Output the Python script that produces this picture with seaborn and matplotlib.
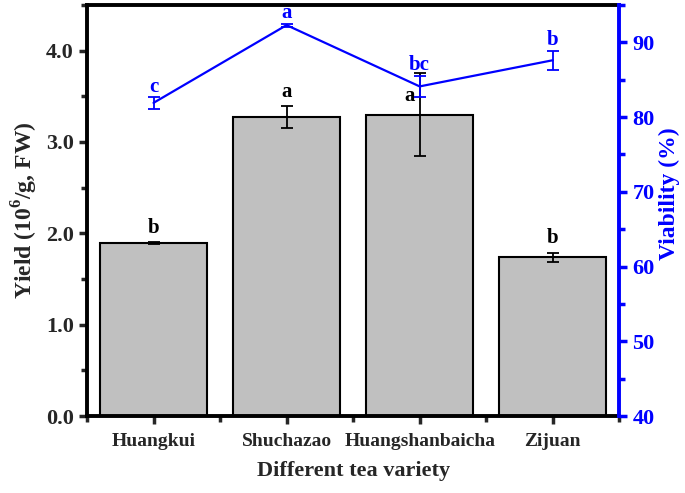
import numpy as np
import pandas as pd
import matplotlib
matplotlib.use("Agg")
import matplotlib.pyplot as plt
import seaborn as sns
from matplotlib.ticker import MultipleLocator, FormatStrFormatter

# data
varieties = ["Huangkui", "Shuchazao", "Huangshanbaicha", "Zijuan"]
yield_mean = [1.89, 3.27, 3.30, 1.74]
yield_err = [0.01, 0.12, 0.45, 0.05]
yield_letters = ["b", "a", "a", "b"]
viability_mean = [81.9, 92.3, 84.1, 87.6]
viability_err = [0.8, 0.2, 1.45, 1.3]
viability_letters = ["c", "a", "bc", "b"]

sns.set_style("ticks")
plt.rcParams['font.family'] = ['Liberation Serif', 'DejaVu Serif']
plt.rcParams['font.weight'] = 'bold'
plt.rcParams['mathtext.fontset'] = 'custom'
plt.rcParams['mathtext.rm'] = 'Liberation Serif:bold'
plt.rcParams['mathtext.bf'] = 'Liberation Serif:bold'

df = pd.DataFrame({'variety': varieties, 'yield': yield_mean})
blue = '#0000ff'

fig = plt.figure(figsize=(6.85, 4.93), dpi=100)
ax = fig.add_axes([0.127, 0.156, 0.777, 0.834])

sns.barplot(data=df, x='variety', y='yield', color='#c0c0c0', edgecolor='black',
            linewidth=1.5, width=0.8, saturation=1, ax=ax)
pos = np.arange(len(varieties))
ax.errorbar(pos, yield_mean, yerr=yield_err, fmt='none', ecolor='black',
            elinewidth=1.3, capsize=4, capthick=1.3, zorder=5)
for i in pos:
    if i == 2:
        # this letter sits beside the long error bar in the original
        ax.text(i - 0.04, 3.50, yield_letters[i], ha='right', va='center',
                fontsize=15, fontweight='bold', color='black')
    else:
        ax.text(i, yield_mean[i] + yield_err[i] + 0.05, yield_letters[i], ha='center',
                va='bottom', fontsize=15, fontweight='bold', color='black')

ax.set_xlim(-0.5, 3.5)
ax.set_ylim(0, 4.5)
ax.yaxis.set_major_locator(MultipleLocator(1.0))
ax.yaxis.set_minor_locator(MultipleLocator(0.5))
ax.yaxis.set_major_formatter(FormatStrFormatter('%.1f'))
ax.set_xticks(pos, minor=False)
ax.set_xticks(np.arange(-0.5, 4.0, 1.0), minor=True)
ax.set_xticklabels(varieties)
ax.set_xlabel('Different tea variety', fontsize=16, fontweight='bold', labelpad=8)
ax.set_ylabel('Yield (10$^6$/g, FW)', fontsize=17, fontweight='bold', labelpad=4)
ax.tick_params(axis='x', which='major', direction='out', length=6, width=2.5,
               labelsize=14, pad=6)
ax.tick_params(axis='y', which='major', direction='out', length=6, width=2.5,
               labelsize=16)
ax.tick_params(axis='both', which='minor', direction='out', length=4, width=2.5)
for sp in ['left', 'bottom', 'top']:
    ax.spines[sp].set_linewidth(2.8)
    ax.spines[sp].set_color('black')
ax.spines['right'].set_visible(False)

ax2 = ax.twinx()
ax2.plot(pos, viability_mean, color=blue, lw=1.6)
ax2.errorbar(pos, viability_mean, yerr=viability_err, fmt='none', ecolor=blue,
             elinewidth=1.3, capsize=4, capthick=1.3)
for i in pos:
    ax2.text(i, viability_mean[i] + viability_err[i] + 0.7, viability_letters[i],
             ha='center', va='baseline', fontsize=15, fontweight='bold', color=blue)
ax2.set_ylim(40, 95)
ax2.yaxis.set_major_locator(MultipleLocator(10))
ax2.yaxis.set_minor_locator(MultipleLocator(5))
ax2.set_ylabel('Viability (%)', fontsize=17, fontweight='bold', color=blue)
ax2.yaxis.set_label_coords(1.075, 0.54)
ax2.tick_params(axis='y', which='major', direction='out', length=6, width=2.5,
                labelsize=16, colors=blue)
ax2.tick_params(axis='y', which='minor', direction='out', length=4, width=2.5, colors=blue)
for sp in ['left', 'bottom', 'top']:
    ax2.spines[sp].set_visible(False)
ax2.spines['right'].set_linewidth(2.8)
ax2.spines['right'].set_color(blue)

for lab in ax.get_xticklabels() + ax.get_yticklabels() + ax2.get_yticklabels():
    lab.set_fontweight('bold')

fig.savefig('out.png', dpi=100)
